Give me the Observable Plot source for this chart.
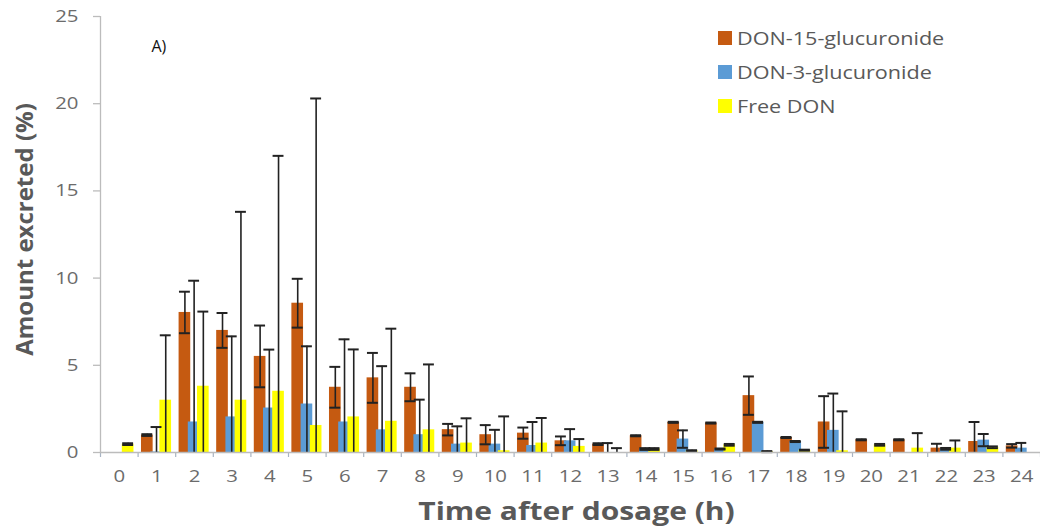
<!DOCTYPE html>
<html>
<head>
<meta charset="utf-8">
<script src="https://cdn.jsdelivr.net/npm/d3@7"></script>
<script src="https://cdn.jsdelivr.net/npm/@observablehq/plot@0.6"></script>
<style>
  body { margin: 0; background: #fff; }
  #wrap { position: relative; width: 1040px; height: 526px; font-family: "Open Sans", sans-serif; }
  #legend { position: absolute; left: 718px; top: 21px; }
  .row { height: 34px; display: flex; align-items: center; }
  .sw { width: 14px; height: 14px; margin-right: 5px; }
  .lab { display: inline-block; font-size: 18px; color: #595959; transform: scaleX(1.2); transform-origin: left center; white-space: nowrap; }
</style>
</head>
<body>
<div id="wrap"></div>
<script>
// Time after dosage (h)
const hours = d3.range(0, 25);
const seriesNames = ["DON-15-glucuronide", "DON-3-glucuronide", "Free DON"];
const seriesColors = ["#C55A11", "#5B9BD5", "#FFFF00"];
const yTicks = [0, 5, 10, 15, 20, 25];

// Mean amount excreted (%) per hour, and error (SD)
const don15 = [0, 1.0, 8.03, 7.0, 5.51, 8.56, 3.74, 4.28, 3.74, 1.31, 1.02, 1.11, 0.67, 0.48, 0.96, 1.73, 1.69, 3.26, 0.86, 1.75, 0.73, 0.73, 0.25, 0.63, 0.38];
const don15Err = [0, 0.05, 1.19, 1.0, 1.77, 1.4, 1.17, 1.43, 0.8, 0.33, 0.55, 0.32, 0.25, 0.05, 0.03, 0.03, 0.03, 1.1, 0.03, 1.48, 0.03, 0.03, 0.25, 1.12, 0.1];
const don3 = [0, 0.03, 1.75, 2.04, 2.55, 2.78, 1.75, 1.3, 1.02, 0.48, 0.48, 0.4, 0.67, 0, 0.2, 0.77, 0.2, 1.73, 0.63, 1.27, 0, 0, 0.21, 0.71, 0.25];
const don3Err = [0, 1.43, 8.1, 4.62, 3.35, 3.31, 4.74, 3.65, 2.01, 1.02, 0.82, 1.35, 0.67, 0.54, 0.05, 0.5, 0.03, 0.03, 0.03, 2.11, 0, 0, 0.05, 0.35, 0.3];
const freeDon = [0.48, 3.0, 3.8, 3.0, 3.51, 1.55, 2.04, 1.79, 1.3, 0.54, 0.1, 0.54, 0.35, 0, 0.2, 0.1, 0.44, 0.05, 0.13, 0.1, 0.44, 0.25, 0.25, 0.3, 0];
const freeDonErr = [0.05, 3.72, 4.28, 10.8, 13.5, 18.75, 3.87, 5.31, 3.75, 1.42, 1.97, 1.44, 0.42, 0.25, 0.05, 0.03, 0.05, 0.03, 0.03, 2.26, 0.05, 0.86, 0.44, 0.05, 0];

const values = [don15, don3, freeDon];
const errors = [don15Err, don3Err, freeDonErr];

// build table (series order = draw order)
const table = [];
values.forEach((arr, i) => arr.forEach((v, j) => table.push({t: hours[j], i, series: seriesNames[i], v, e: errors[i][j]})));

// grouped-bar layout within each hour band (band units)
const offsets = [-0.255, -0.01, 0.235];
const bw = 0.31;
const cx = d => d.t + offsets[d.i];
const cap = 0.145;

const errRows = table.filter(d => d.e > 0);
const lowRows = errRows.filter(d => d.v - d.e > 0);

const axisGray = "#bcbcbc";
const textGray = "#6b6b6b";

const chart = Plot.plot({
  width: 1040,
  height: 526,
  marginLeft: 100,
  marginRight: 0,
  marginTop: 16,
  marginBottom: 74,
  style: {fontFamily: "'Open Sans', sans-serif", background: "#fff"},
  x: {domain: [-0.5, 24.5], axis: null},
  y: {domain: [0, 25], axis: null},
  color: {domain: seriesNames, range: seriesColors},
  marks: [
    Plot.axisY({ticks: yTicks, label: null, tickSize: 7, tickPadding: 15, fontSize: 17, stroke: axisGray, fill: textGray, strokeWidth: 1.3}),
    Plot.axisX({ticks: hours, label: null, tickSize: 0, tickPadding: 17, fontSize: 17, fill: textGray}),
    Plot.axisX({ticks: d3.range(-0.5, 25, 1), label: null, tickSize: 5, tickFormat: () => "", stroke: "#a8b4c4", strokeWidth: 1.2}),
    Plot.rectY(table, {x1: d => cx(d) - bw / 2, x2: d => cx(d) + bw / 2, y1: 0, y2: "v", fill: "series"}),
    Plot.ruleX(errRows, {x: cx, y1: d => Math.max(0, d.v - d.e), y2: d => d.v + d.e, stroke: "#222", strokeWidth: 1.6}),
    Plot.ruleY(errRows, {y: d => d.v + d.e, x1: d => cx(d) - cap, x2: d => cx(d) + cap, stroke: "#222", strokeWidth: 2}),
    Plot.ruleY(lowRows, {y: d => d.v - d.e, x1: d => cx(d) - cap, x2: d => cx(d) + cap, stroke: "#222", strokeWidth: 2}),
    Plot.ruleY([0], {stroke: axisGray, strokeWidth: 1.3}),
    Plot.ruleX([-0.5], {stroke: axisGray, strokeWidth: 1.3}),
    Plot.text(["Amount excreted (%)"], {frameAnchor: "left", dx: -75, dy: -5, rotate: -90, textAnchor: "middle", lineAnchor: "middle", fontSize: 24, fontWeight: "bold", fill: "#595959"}),
    Plot.text(["Time after dosage (h)"], {frameAnchor: "bottom", dx: 6, dy: 59, fontSize: 25, fontWeight: "bold", fill: "#595959", lineAnchor: "middle"}),
    Plot.text(["A)"], {frameAnchor: "top-left", dx: 51, dy: 30, fontSize: 16, fill: "#111", textAnchor: "start", lineAnchor: "middle"})
  ]
});

// horizontally stretch some texts to match the reference's wide lettering
function stretch(nodes, k) {
  nodes.forEach(n => {
    const t = n.getAttribute("transform") || "";
    const x = +(n.getAttribute("x") || 0);
    n.setAttribute("transform", `${t} translate(${x},0) scale(${k},1) translate(${-x},0)`);
  });
}
stretch([...chart.querySelectorAll('g[aria-label="x-axis tick label"] text, g[aria-label="y-axis tick label"] text')], 1.2);
stretch([...chart.querySelectorAll("text")].filter(n => n.textContent === "Time after dosage (h)"), 1.2);

const wrap = document.getElementById("wrap");
wrap.appendChild(chart);

const legend = document.createElement("div");
legend.id = "legend";
seriesNames.forEach((name, i) => {
  const row = document.createElement("div");
  row.className = "row";
  const sw = document.createElement("span");
  sw.className = "sw";
  sw.style.background = seriesColors[i];
  const lab = document.createElement("span");
  lab.className = "lab";
  lab.textContent = name;
  row.appendChild(sw);
  row.appendChild(lab);
  legend.appendChild(row);
});
wrap.appendChild(legend);
</script>
</body>
</html>
